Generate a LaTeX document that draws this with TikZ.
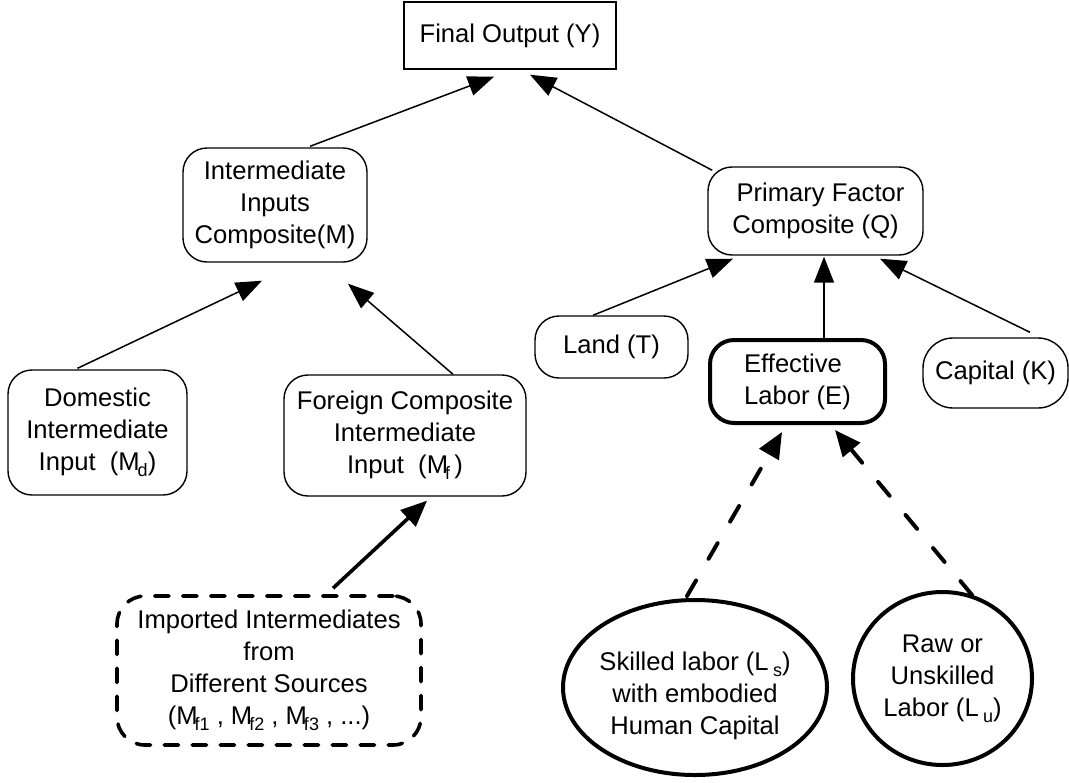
\documentclass[tikz,border=0pt]{standalone}
\usepackage{fontspec}
\setmainfont{Liberation Sans}
\usetikzlibrary{arrows.meta,calc,shapes.geometric}
\newcommand\lowsub[1]{\raisebox{-3pt}{\fontsize{9}{10}\selectfont #1}}
\tikzset{
  every node/.style={font=\fontsize{12.8}{16}\selectfont, align=center, inner sep=0pt},
  rbox/.style={draw, rounded corners=12pt, line width=0.7pt},
  sbox/.style={draw, line width=0.7pt},
  thickbox/.style={draw, rounded corners=12pt, line width=2pt},
  dashbox/.style={draw, rounded corners=14pt, line width=1.8pt, line cap=round, dash pattern=on 7.2pt off 6.8pt},
  oval/.style={draw, ellipse, line width=2pt},
  arr/.style={line width=0.75pt, -{Triangle[length=13pt,width=10pt]}},
  thickarr/.style={line width=1.8pt, -{Triangle[length=13pt,width=11pt]}},
  dasharr/.style={line width=2pt, line cap=round, dash pattern=on 9pt off 12.5pt, -{Triangle[length=13pt,width=11pt]}},
}
\begin{document}
\begin{tikzpicture}[x=0.5pt,y=-0.5pt]
\useasboundingbox (0,0) rectangle (1069,782);

\node[sbox, minimum width=106pt, minimum height=33.5pt] (Y) at (510,35.5) {Final Output (Y)};
\node[rbox, minimum width=92pt, minimum height=57pt] (M) at (275,205) {Intermediate\\Inputs\\Composite(M)};
\node[rbox, minimum width=107.5pt, minimum height=44pt] (Q) at (815.5,211) {\hspace*{5pt}Primary Factor\\Composite (Q)};
\node[rbox, minimum width=89.5pt, minimum height=62.5pt] (Md) at (97.5,432.5) {Domestic\\Intermediate\\Input\ \ (M\kern-1pt\lowsub{d})};
\node[rbox, minimum width=121pt, minimum height=60.5pt] (Mf) at (405,435.5) {Foreign Composite\\Intermediate\\Input\ \ (M\kern-1.5pt\lowsub{f}\,)};
\node[rbox, minimum width=76.5pt, minimum height=31pt] (T) at (611.5,347) {Land (T)};
\node[thickbox, minimum width=87.5pt, minimum height=41.5pt, align=left] (E) at (797.5,381.5) {Effective\\Labor (E)};
\node[rbox, rounded corners=15pt, minimum width=72.5pt, minimum height=35pt] (K) at (995.5,373) {Capital (K)};
\node[dashbox, minimum width=152pt, minimum height=74.5pt] (Imp) at (269,670.5) {Imported Intermediates\\from\\Different Sources\\(M\kern-1.5pt\lowsub{f1} , M\kern-1.5pt\lowsub{f2} , M\kern-1.5pt\lowsub{f3} , ...)};
\node[oval, minimum width=132pt, minimum height=87.5pt] (Ls) at (695,687.5) {};
\node (Lstext) at (695,696) {Skilled labor (L\,\lowsub{s})\\with embodied\\Human Capital};
\node[oval, minimum width=89.5pt, minimum height=86.5pt] (Lu) at (942.5,678.5) {Raw or\\Unskilled\\Labor (L\,\lowsub{u})};

\draw[arr] ($(M.north)+(35,-1)$) -- ($(Y.south)+(-16,7)$);
\draw[arr] ($(Q.north west)+(5,4)$) -- ($(Y.south)+(20,5)$);
\draw[arr] ($(Md.north)+(-20,-1)$) -- ($(M.south)+(-13,18)$);
\draw[arr] ($(Mf.north)+(48,0)$) -- ($(M.south)+(73,21)$);
\draw[thickarr] ($(Imp.north)+(64,-6)$) -- ($(Mf.south)+(22,4)$);
\draw[arr] ($(T.north)+(-18.5,0)$) -- ($(Q.south)+(-82.5,3)$);
\draw[arr] ($(E.north)+(26.5,0)$) -- ($(Q.south)+(8.5,1)$);
\draw[arr] ($(K.north)+(34.5,-5)$) -- ($(Q.south)+(64.5,3)$);
\draw[dasharr] ($(Ls.north)+(-8,-2)$) -- ($(E.south)+(-15.5,7)$);
\draw[dasharr] ($(Lu.north)+(29.5,5)$) -- ($(E.south)+(37.5,5)$);
\end{tikzpicture}
\end{document}
